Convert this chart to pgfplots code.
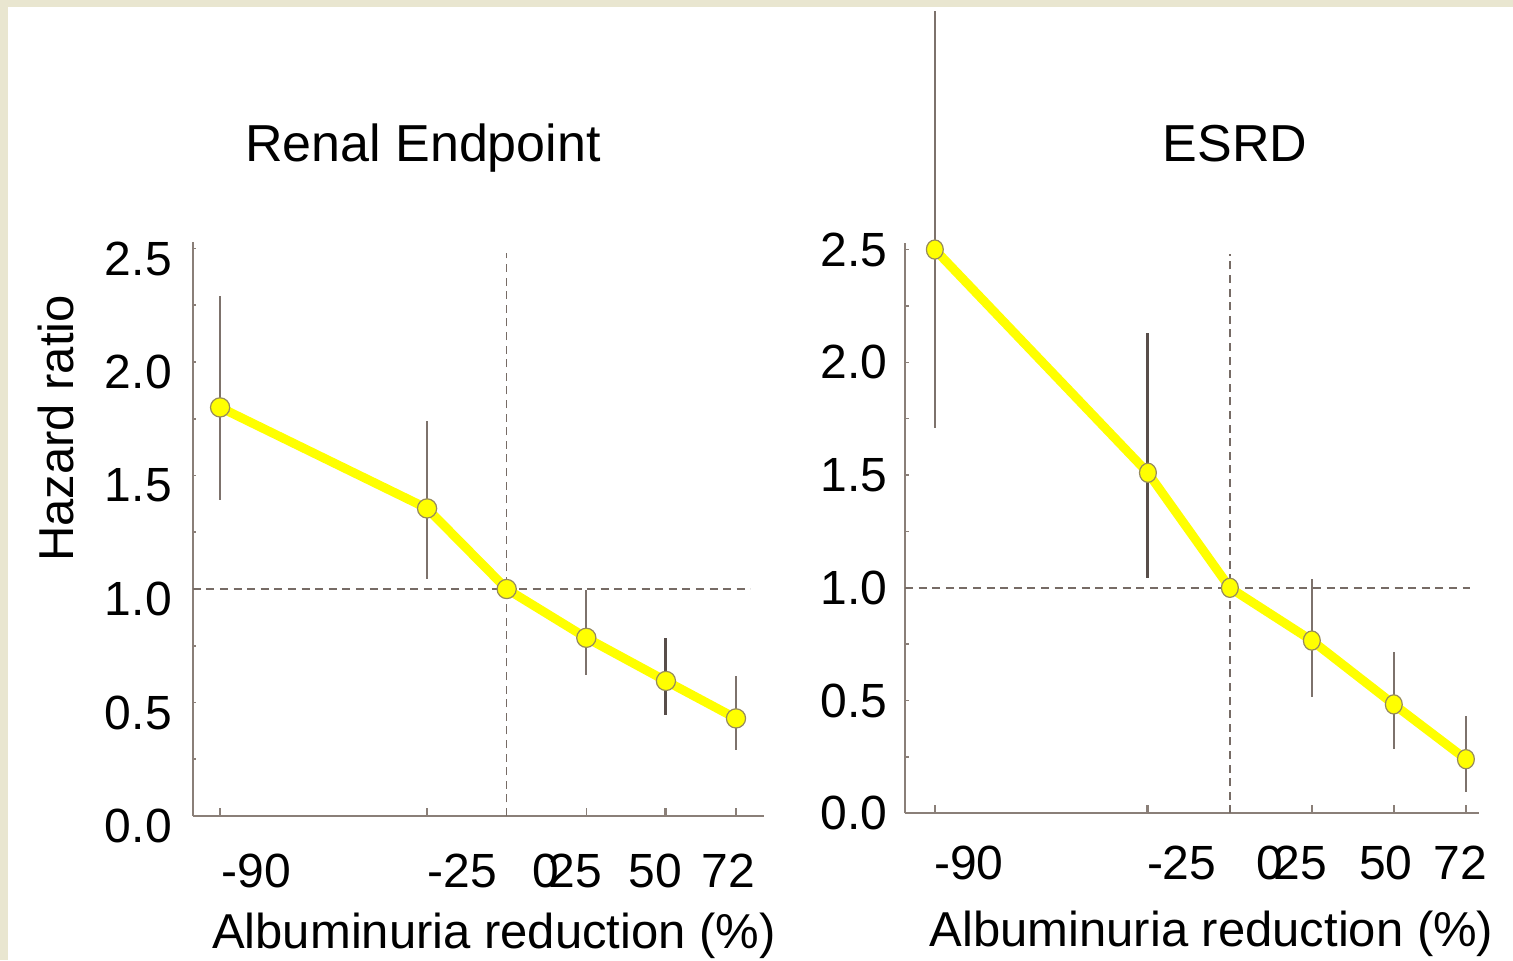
\documentclass[border=0pt]{standalone}
\usepackage{fontspec}
\setmainfont{Liberation Sans}
\usepackage{pgfplots}
\pgfplotsset{compat=1.18}

\definecolor{framec}{RGB}{233,230,208}
\definecolor{axc}{RGB}{138,127,120}
\definecolor{errc}{RGB}{125,114,108}
\definecolor{errd}{RGB}{88,78,74}
\definecolor{dashc}{RGB}{118,107,101}
\definecolor{mkc}{RGB}{150,138,92}
\definecolor{hryellow}{RGB}{255,255,0}

\pgfplotsset{
  hrpanel/.style={
    scale only axis, clip=false,
    axis x line=bottom, axis y line=left,
    axis line style={-, draw=axc, line width=1pt},
    ymin=0, ymax=2.53,
    ytick={0,0.5,1,1.5,2,2.5}, minor y tick num=1,
    tick align=inside, major tick length=1.8pt, minor tick length=1.8pt,
    tick style={draw=axc, line width=0.8pt},
    xtick style={draw=none},
    xticklabels={-90,-25,0,25,50,72},
    tick label style={font=\fontsize{24}{28}\selectfont},
    /pgf/number format/assume math mode=true,
    yticklabel style={/pgf/number format/fixed, /pgf/number format/fixed zerofill,
      /pgf/number format/precision=1, anchor=east, inner sep=0pt},
    xticklabel style={anchor=center, inner sep=0pt},
  },
  hrline/.style={draw=hryellow, line width=4.5pt, mark=*, mark size=4.8pt,
    mark options={fill=hryellow, draw=mkc, line width=0.6pt, solid, xscale=#1}},
  hrline/.default=1,
  hrerr/.style 2 args={draw=none, mark=none, forget plot,
    error bars/.cd, y dir=both, y explicit, error mark=none,
    error bar style={draw=#1, line width=#2, solid}},
  hrdash/.style={draw=dashc, line width=0.8pt, dash pattern=on 4pt off 2.8pt, mark=none, forget plot},
  hrtick/.style={ycomb, draw=axc, line width=#1, mark=none, forget plot},
}

\begin{document}
\begin{tikzpicture}
\path[use as bounding box] (0,0) rectangle (756.5pt,480pt);
\clip (0,0) rectangle (756.5pt,480pt);
\fill[framec] (0,0) rectangle (756.5pt,480pt);
\fill[white] (3.75pt,0) rectangle (756.5pt,476.25pt);

% Renal endpoint
\begin{axis}[hrpanel, at={(96.35pt,72pt)}, anchor=south west,
  width=285.65pt, height=287.15pt, xmin=-98.6, xmax=80.8,
  xtick={-78.6,-13.9,12.4,21.5,46.7,69.5},
  xticklabel style={yshift=-27.5pt},
  yticklabel style={xshift=-10.3pt, yshift=-5pt}]
\addplot[hrerr={errc}{1pt}] coordinates {
  (-90,1.80) += (0,0.49) -= (0,0.41)
  (-25,1.355) += (0,0.385) -= (0,0.31)
  (25,0.785) += (0,0.21) -= (0,0.165)
  (72,0.43) += (0,0.185) -= (0,0.14)
};
\addplot[hrerr={errd}{1.5pt}] coordinates {
  (50,0.595) += (0,0.19) -= (0,0.15)
};
\addplot[hrline] coordinates {
  (-90,1.80) (-25,1.355) (0,1.0) (25,0.785) (50,0.595) (72,0.43)
};
\addplot[hrdash] coordinates {(-98.6,1) (76.5,1)};
\addplot[hrdash] coordinates {(0,0) (0,2.48)};
\addplot[hrtick=0.8pt] coordinates {(-90,0.036) (-25,0.036) (25,0.036) (72,0.036)};
\addplot[hrtick=1.5pt] coordinates {(50,0.036)};
\end{axis}

% ESRD
\begin{axis}[hrpanel, at={(452.5pt,73.35pt)}, anchor=south west,
  width=287.1pt, height=285.25pt, xmin=-99.1, xmax=76.05,
  xtick={-79.6,-14.7,12.2,21.4,47.6,70.2},
  xticklabel style={yshift=-24.85pt},
  yticklabel style={xshift=-8.5pt}]
\addplot[hrerr={errc}{1pt}] coordinates {
  (-90,2.5) += (0,1.06) -= (0,0.79)
  (25,0.766) += (0,0.274) -= (0,0.251)
  (50,0.483) += (0,0.231) -= (0,0.2)
  (72,0.24) += (0,0.19) -= (0,0.145)
};
\addplot[hrerr={errd}{1.5pt}] coordinates {
  (-25,1.51) += (0,0.62) -= (0,0.465)
};
\addplot[hrline=0.88] coordinates {
  (-90,2.5) (-25,1.51) (0,1.0) (25,0.766) (50,0.483) (72,0.24)
};
\addplot[hrdash] coordinates {(-99.1,1) (73.3,1)};
\addplot[hrdash] coordinates {(0,0) (0,2.48)};
\addplot[hrtick=0.8pt] coordinates {(-90,0.036) (25,0.036) (50,0.036) (72,0.036)};
\addplot[hrtick=1.5pt] coordinates {(-25,0.036)};
\end{axis}

\node[font=\fontsize{26}{30}\selectfont, anchor=base, inner sep=0pt] at (211.5pt,399pt) {Renal Endpoint};
\node[font=\fontsize{26}{30}\selectfont, anchor=base, inner sep=0pt] at (617.5pt,399pt) {ESRD};
\node[font=\fontsize{24.5}{29}\selectfont, rotate=90, anchor=base, inner sep=0pt] at (36.5pt,265.75pt) {Hazard ratio};
\node[font=\fontsize{24.5}{29}\selectfont, anchor=base, inner sep=0pt] at (247pt,6pt) {Albuminuria reduction (\%)};
\node[font=\fontsize{24.5}{29}\selectfont, anchor=base, inner sep=0pt] at (605.75pt,7pt) {Albuminuria reduction (\%)};
\end{tikzpicture}
\end{document}
